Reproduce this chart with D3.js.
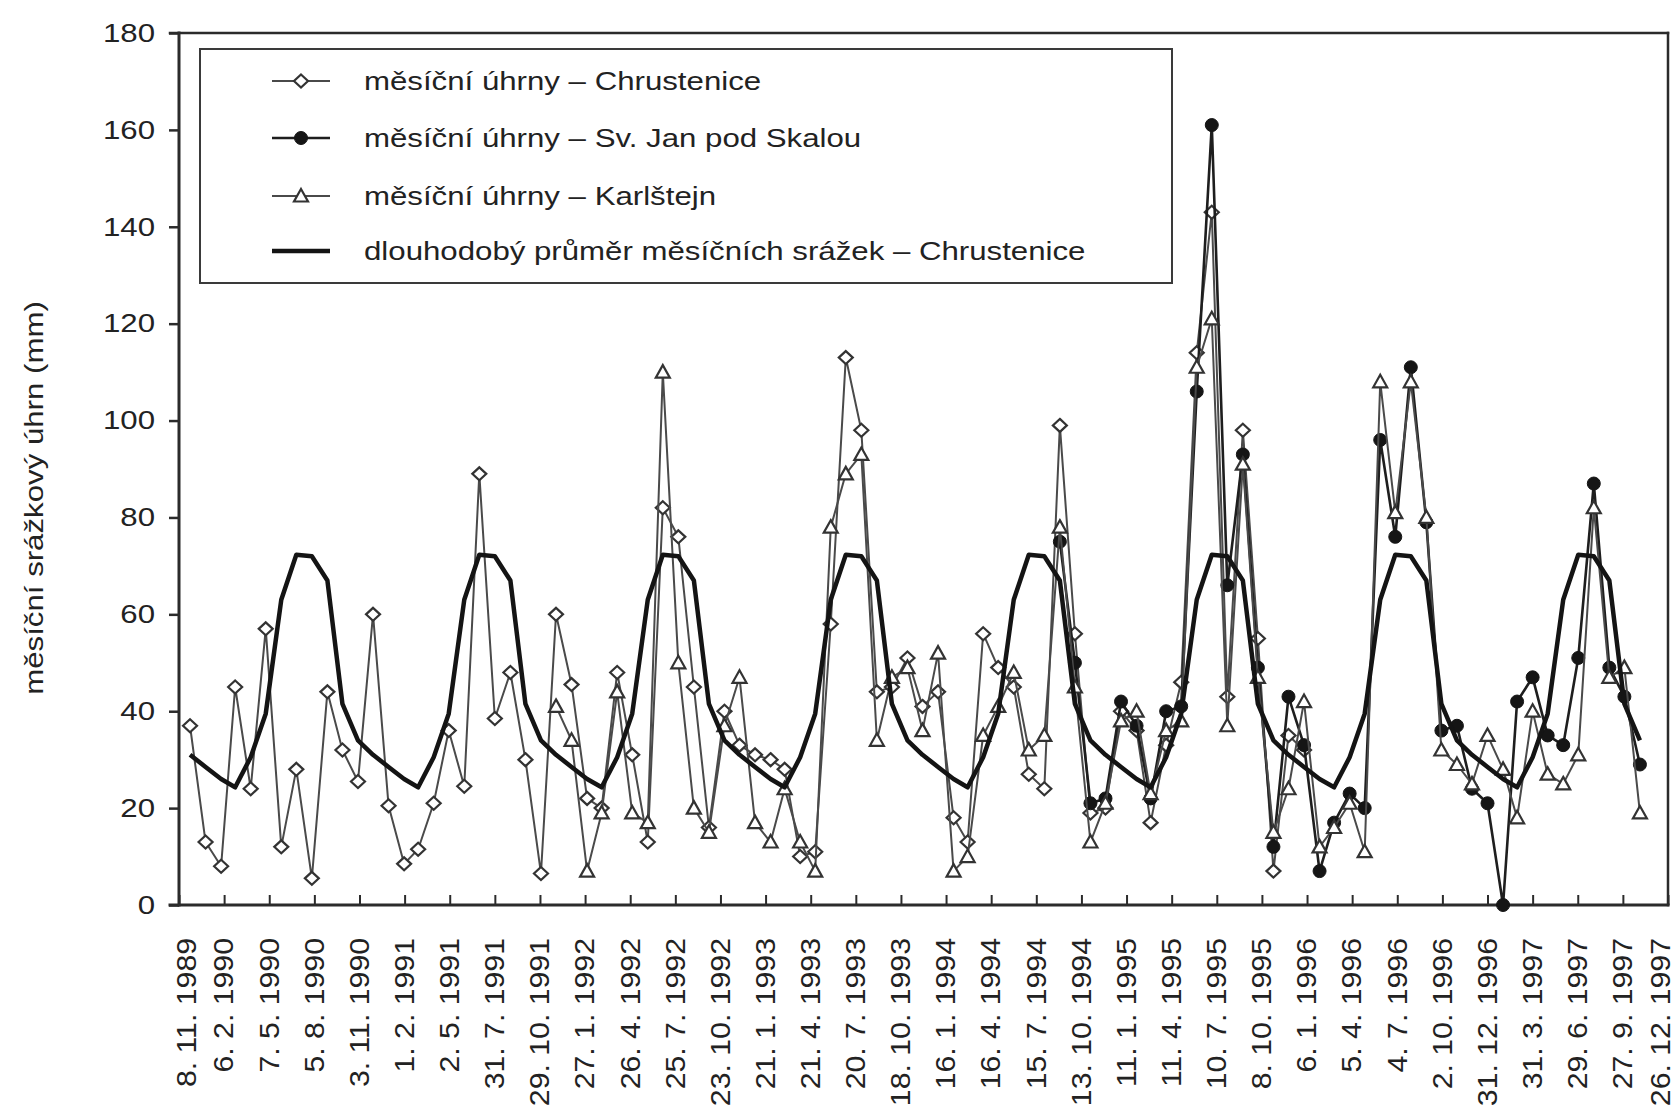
<!DOCTYPE html>
<html>
<head>
<meta charset="utf-8">
<script src="https://cdn.jsdelivr.net/npm/d3@7"></script>
<style>
  html, body { margin: 0; padding: 0; background: #fff; }
  svg { display: block; }
  text { font-family: "Liberation Sans", Arial, Helvetica, sans-serif; fill: #222; }
</style>
</head>
<body>
<svg id="chart" width="1679" height="1113"></svg>
<script>
// Monthly precipitation totals (mm). Each series starts at the given month.
const chrusteniceStart = "1989-11";
const chrustenice = [
  37, 13, 8, 45, 24, 57, 12, 28, 5.5, 44, 32, 25.5,
  60, 20.5, 8.5, 11.5, 21, 36, 24.5, 89, 38.5, 48, 30, 6.5,
  60, 45.5, 22, 20, 48, 31, 13, 82, 76, 45, 16, 40,
  33, 31, 30, 28, 10, 11, 58, 113, 98, 44, 45, 51,
  41, 44, 18, 13, 56, 49, 45, 27, 24, 99, 56, 19,
  20, 40, 36, 17, 33, 46, 114, 143, 43, 98, 55, 7,
  35, 32
];

const svJanStart = "1994-08";
const svJan = [
  75, 50, 21, 22, 42, 37, 22, 40, 41, 106, 161, 66,
  93, 49, 12, 43, 33, 7, 17, 23, 20, 96, 76, 111,
  79, 36, 37, 24, 21, 0, 42, 47, 35, 33, 51, 87,
  49, 43, 29
];

const karlstejnStart = "1991-11";
const karlstejn = [
  41, 34, 7, 19, 44, 19, 17, 110, 50, 20, 15, 37,
  47, 17, 13, 24, 13, 7, 78, 89, 93, 34, 47, 49,
  36, 52, 7, 10, 35, 41, 48, 32, 35, 78, 45, 13,
  21, 38, 40, 23, 36, 38, 111, 121, 37, 91, 47, 15,
  24, 42, 12, 16, 21, 11, 108, 81, 108, 80, 32, 29,
  25, 35, 28, 18, 40, 27, 25, 31, 82, 47, 49, 19
];

// Long-term monthly mean at Chrustenice, January .. December
const longTermMean = [26, 24.3, 30.5, 39.5, 63, 72.3, 72, 67, 41.5, 34, 31, 28.5];
const meanStart = "1989-11";
const meanEnd = "1997-10";

// Axis labels
const xTickLabels = [
  "8. 11. 1989", "6. 2. 1990", "7. 5. 1990", "5. 8. 1990", "3. 11. 1990",
  "1. 2. 1991", "2. 5. 1991", "31. 7. 1991", "29. 10. 1991", "27. 1. 1992",
  "26. 4. 1992", "25. 7. 1992", "23. 10. 1992", "21. 1. 1993", "21. 4. 1993",
  "20. 7. 1993", "18. 10. 1993", "16. 1. 1994", "16. 4. 1994", "15. 7. 1994",
  "13. 10. 1994", "11. 1. 1995", "11. 4. 1995", "10. 7. 1995", "8. 10. 1995",
  "6. 1. 1996", "5. 4. 1996", "4. 7. 1996", "2. 10. 1996", "31. 12. 1996",
  "31. 3. 1997", "29. 6. 1997", "27. 9. 1997", "26. 12. 1997"
];
const yTicks = [0, 20, 40, 60, 80, 100, 120, 140, 160, 180];

const legendLabels = [
  "měsíční úhrny – Chrustenice",
  "měsíční úhrny – Sv. Jan pod Skalou",
  "měsíční úhrny – Karlštejn",
  "dlouhodobý průměr měsíčních srážek – Chrustenice"
];
const yTitle = "měsíční srážkový úhrn (mm)";

// ---------------------------------------------------------------------------
const svg = d3.select("#chart");
const plot = { left: 179, right: 1668, top: 33, bottom: 905 };

const parseLabel = s => {
  const [d, m, y] = s.split(".").map(t => +t.trim());
  return new Date(y, m - 1, d);
};
const xTickDates = xTickLabels.map(parseLabel);

const x = d3.scaleTime()
  .domain([xTickDates[0], xTickDates[xTickDates.length - 1]])
  .range([plot.left, plot.right]);
const y = d3.scaleLinear().domain([0, 180]).range([plot.bottom, plot.top]);

// a monthly total is placed at the last day of its month
const monthStart = s => { const [yy, mm] = s.split("-").map(Number); return new Date(yy, mm - 1, 1); };
const monthEnd = d => new Date(d.getFullYear(), d.getMonth() + 1, 0);
function toPoints(start, values) {
  const s = monthStart(start);
  return values.map((v, i) => ({ date: monthEnd(d3.timeMonth.offset(s, i)), value: v }));
}

const meanMonths = d3.timeMonth.range(monthStart(meanStart), d3.timeMonth.offset(monthStart(meanEnd), 1));
const meanPoints = meanMonths.map(m => ({ date: monthEnd(m), value: longTermMean[m.getMonth()] }));

// stretch text horizontally along its baseline
function stretch(sel, k) {
  sel.each(function () {
    const w = this.getComputedTextLength();
    this.setAttribute("textLength", w * k);
    this.setAttribute("lengthAdjust", "spacingAndGlyphs");
  });
}

const ink = "#2b2b2b";

// ---- axes -----------------------------------------------------------------
const gy = svg.append("g")
  .attr("transform", `translate(${plot.left},0)`)
  .call(d3.axisLeft(y).tickValues(yTicks).tickSize(10).tickSizeOuter(0).tickPadding(14));
gy.select(".domain").remove();
gy.selectAll(".tick line").attr("stroke", ink).attr("stroke-width", 2.5);
gy.selectAll(".tick text")
  .attr("font-size", 26).attr("fill", "#222").attr("font-family", null)
  .call(stretch, 1.2);

const gx = svg.append("g")
  .attr("transform", `translate(0,${plot.bottom})`)
  .call(d3.axisBottom(x).tickValues(xTickDates).tickSize(-10).tickSizeOuter(0)
    .tickFormat((d, i) => xTickLabels[i]));
gx.select(".domain").remove();
gx.selectAll(".tick line").attr("stroke", ink).attr("stroke-width", 2);
const lastTick = xTickLabels.length - 1;
// the outermost labels sit slightly inside the frame
const labelShift = i => (i === 0 ? 7 : i === lastTick ? -8 : -1);
gx.selectAll(".tick text")
  .attr("font-size", 28).attr("fill", "#222").attr("font-family", null)
  .attr("x", 0).attr("y", 0).attr("dy", "0.35em")
  .attr("text-anchor", "end")
  .attr("transform", (d, i) => `translate(${labelShift(i)},33) rotate(-90)`)
  .call(stretch, 1.08);

// frame and axis lines
const frame = svg.append("g").attr("fill", "none").attr("stroke", ink).attr("stroke-linecap", "square");
frame.append("line").attr("x1", plot.left - 9).attr("x2", plot.right).attr("y1", plot.top).attr("y2", plot.top).attr("stroke-width", 2.5);
frame.append("line").attr("x1", plot.right).attr("x2", plot.right).attr("y1", plot.top).attr("y2", plot.bottom).attr("stroke-width", 2.5);
frame.append("line").attr("x1", plot.left).attr("x2", plot.left).attr("y1", plot.top).attr("y2", plot.bottom).attr("stroke-width", 3);
frame.append("line").attr("x1", plot.left - 9).attr("x2", plot.right).attr("y1", plot.bottom).attr("y2", plot.bottom).attr("stroke-width", 3);

// y-axis title
svg.append("text")
  .attr("transform", "translate(34,498) rotate(-90)")
  .attr("text-anchor", "middle").attr("dy", "0.35em")
  .attr("font-size", 26)
  .text(yTitle)
  .call(stretch, 1.2);

// ---- markers --------------------------------------------------------------
const markers = {
  diamond: g => g.append("path").attr("d", "M0,-6.5 L7,0 L0,6.5 L-7,0 Z")
    .attr("fill", "#fff").attr("stroke", "#333").attr("stroke-width", 2.2),
  circle: g => g.append("circle").attr("r", 6.5)
    .attr("fill", "#151515").attr("stroke", "#151515").attr("stroke-width", 1),
  triangle: g => g.append("path").attr("d", "M0,-7 L7,5.5 L-7,5.5 Z")
    .attr("fill", "#fff").attr("stroke", "#333").attr("stroke-width", 2.2)
};

const line = d3.line().x(d => x(d.date)).y(d => y(d.value));

function drawSeries(points, opts) {
  const g = svg.append("g");
  g.append("path").datum(points)
    .attr("d", line)
    .attr("fill", "none")
    .attr("stroke", opts.stroke)
    .attr("stroke-width", opts.width)
    .attr("stroke-linejoin", "round");
  if (opts.marker) {
    g.selectAll("g.m").data(points).join("g")
      .attr("class", "m")
      .attr("transform", d => `translate(${x(d.date)},${y(d.value)})`)
      .each(function () { markers[opts.marker](d3.select(this)); });
  }
}

const styles = [
  { stroke: "#4a4a4a", width: 2, marker: "diamond" },
  { stroke: "#1e1e1e", width: 2.6, marker: "circle" },
  { stroke: "#4a4a4a", width: 2, marker: "triangle" },
  { stroke: "#141414", width: 4.5, marker: null }
];

drawSeries(toPoints(chrusteniceStart, chrustenice), styles[0]);
drawSeries(toPoints(svJanStart, svJan), styles[1]);
drawSeries(toPoints(karlstejnStart, karlstejn), styles[2]);
drawSeries(meanPoints, styles[3]);

// ---- legend ---------------------------------------------------------------
const legend = svg.append("g");
legend.append("rect")
  .attr("x", 200).attr("y", 49).attr("width", 972).attr("height", 234)
  .attr("fill", "#fff").attr("stroke", "#3a3a3a").attr("stroke-width", 2);
const rowY = [81, 138, 196, 251];
legendLabels.forEach((label, i) => {
  const st = styles[i];
  const row = legend.append("g").attr("transform", `translate(0,${rowY[i]})`);
  row.append("line").attr("x1", 272).attr("x2", 330).attr("y1", 0).attr("y2", 0)
    .attr("stroke", st.stroke).attr("stroke-width", st.width);
  if (st.marker) {
    markers[st.marker](row.append("g").attr("transform", "translate(301,0)"));
  }
  row.append("text").attr("x", 364).attr("dy", "0.35em")
    .attr("font-size", 26).text(label).call(stretch, 1.2);
});
</script>
</body>
</html>
